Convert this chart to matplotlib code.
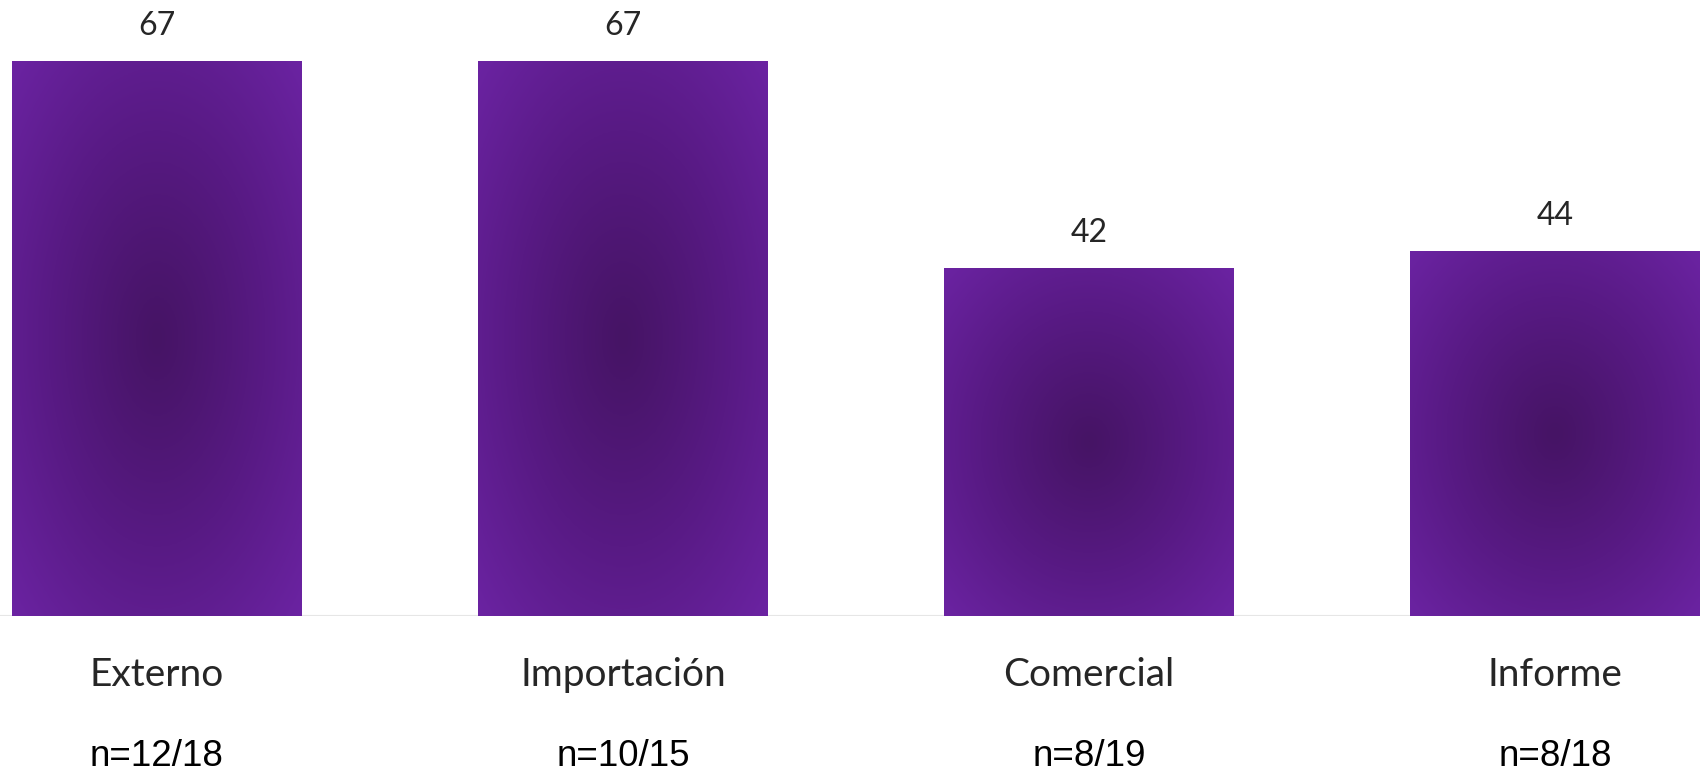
import matplotlib
matplotlib.use("Agg")
import matplotlib.pyplot as plt
import numpy as np
from matplotlib.colors import LinearSegmentedColormap
from matplotlib.transforms import blended_transform_factory

categories = ["Externo", "Importación", "Comercial", "Informe"]
values = [67, 67, 42, 44]
counts = ["n=12/18", "n=10/15", "n=8/19", "n=8/18"]

# radial purple gradient, dark in the middle
cmap = LinearSegmentedColormap.from_list("purp", ["#461465", "#581a84", "#6b23a2"])

fig = plt.figure(figsize=(17, 7.79), dpi=100)
ax = fig.add_axes([0, 1 - 616 / 779, 1, 616 / 779])

x = np.arange(len(categories))
width = 0.622
bars = ax.bar(x, values, width=width, color="none", edgecolor="none")

gx, gy = np.meshgrid(np.linspace(-1, 1, 200), np.linspace(-1, 1, 300))
r = np.clip(np.sqrt(gx ** 2 + gy ** 2) / np.sqrt(2), 0, 1) ** 1.1

for b in bars:
    x0, w, h = b.get_x(), b.get_width(), b.get_height()
    ax.imshow(r, cmap=cmap, vmin=0, vmax=1, extent=(x0, x0 + w, 0, h),
              aspect="auto", zorder=2, interpolation="bilinear")
    ax.text(x0 + w / 2, h + 2.5, str(int(h)), ha="center", va="bottom",
            fontsize=23, family="Lato", color="#262626")

ax.set_xlim(-157 / 466, (1700 - 157) / 466)
ax.set_ylim(0, 616 / 8.28)
ax.axis("off")
ax.axhline(0, color="#e6e6e6", lw=1.5, zorder=1)

tr = blended_transform_factory(ax.transData, fig.transFigure)
for i, (c, n) in enumerate(zip(categories, counts)):
    ax.text(i, 1 - 686 / 779, c, transform=tr, ha="center", va="baseline",
            fontsize=28, family="Lato", color="#262626")
    ax.text(i, 1 - 766 / 779, n, transform=tr, ha="center", va="baseline",
            fontsize=26.5, family="Liberation Sans", color="black")

fig.savefig("out.png", dpi=100)
